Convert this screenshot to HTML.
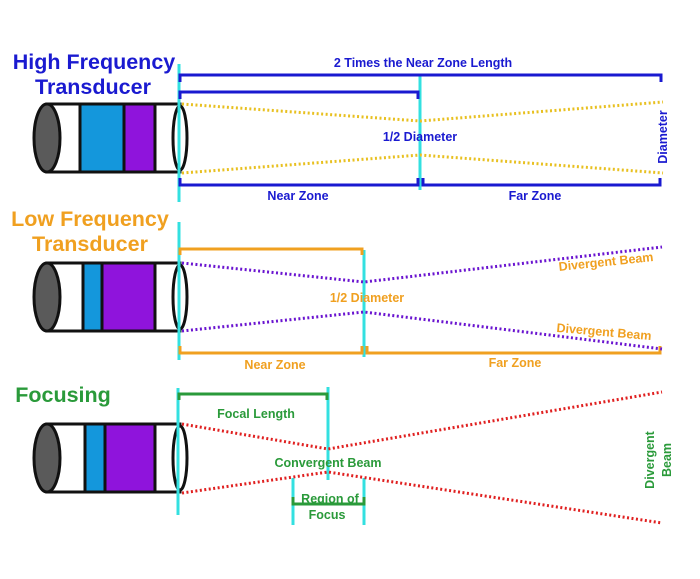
<!DOCTYPE html>
<html><head><style>body{margin:0;background:#fff}svg{display:block}text{font-family:"Liberation Sans",sans-serif;font-weight:bold}</style></head><body>
<svg width="700" height="579" viewBox="0 0 700 579" xmlns="http://www.w3.org/2000/svg">
<!-- HIGH FREQUENCY -->
<text x="94" y="69" font-size="21.5" fill="#1a1ad0" text-anchor="middle">High Frequency</text>
<text x="93" y="94" font-size="21.5" fill="#1a1ad0" text-anchor="middle">Transducer</text>
<g stroke="#111" stroke-width="3">
<rect x="47" y="104" width="133" height="68" fill="#fff"/>
<rect x="80" y="104" width="44" height="68" fill="#1497dc"/>
<rect x="124" y="104" width="31" height="68" fill="#8f14dc"/>
<ellipse cx="47" cy="138" rx="13" ry="34" fill="#5a5a5a"/>
<ellipse cx="180" cy="138" rx="7" ry="32" fill="#fff"/>
</g>
<line x1="179" y1="64" x2="179" y2="202" stroke="#33e0e0" stroke-width="3"/>
<line x1="420" y1="76" x2="420" y2="190" stroke="#33e0e0" stroke-width="3"/>
<g stroke="#1a1ad0" stroke-width="3" fill="none">
<path d="M180 82V75H661V82"/>
<path d="M180 99V92H418V99"/>
<path d="M180 178V185H418V178M423 178V185H660V178"/>
</g>
<g stroke="#e8c020" stroke-width="3" stroke-dasharray="2 2.5" fill="none">
<path d="M182 104L420 121L663 102"/>
<path d="M182 173L420 155L663 173"/>
</g>
<g fill="#1a1ad0" font-size="12.5">
<text x="423" y="67" text-anchor="middle">2 Times the Near Zone Length</text>
<text x="420" y="141" text-anchor="middle">1/2 Diameter</text>
<text x="298" y="200" text-anchor="middle">Near Zone</text>
<text x="535" y="200" text-anchor="middle">Far Zone</text>
<text transform="translate(667,137) rotate(-90)" text-anchor="middle">Diameter</text>
</g>
<!-- LOW FREQUENCY -->
<text x="90" y="226" font-size="21.5" fill="#f0a020" text-anchor="middle">Low Frequency</text>
<text x="90" y="251" font-size="21.5" fill="#f0a020" text-anchor="middle">Transducer</text>
<g stroke="#111" stroke-width="3">
<rect x="47" y="263" width="133" height="68" fill="#fff"/>
<rect x="83" y="263" width="19" height="68" fill="#1497dc"/>
<rect x="102" y="263" width="53" height="68" fill="#8f14dc"/>
<ellipse cx="47" cy="297" rx="13" ry="34" fill="#5a5a5a"/>
<ellipse cx="180" cy="297" rx="7" ry="32" fill="#fff"/>
</g>
<line x1="179" y1="222" x2="179" y2="360" stroke="#33e0e0" stroke-width="3"/>
<line x1="364" y1="250" x2="364" y2="357" stroke="#33e0e0" stroke-width="3"/>
<g stroke="#f0a020" stroke-width="3" fill="none">
<path d="M180 255V249H362V255"/>
<path d="M180 346V353H362V346M367 346V353H660V346"/>
</g>
<g stroke="#6a14d0" stroke-width="3" stroke-dasharray="2 2.5" fill="none">
<path d="M182 263L364 282L662 247"/>
<path d="M182 331L364 312L662 349"/>
</g>
<g fill="#f0a020" font-size="12.5">
<text x="367" y="302" text-anchor="middle">1/2 Diameter</text>
<text x="275" y="369" text-anchor="middle">Near Zone</text>
<text x="515" y="367" text-anchor="middle">Far Zone</text>
<text x="606" y="266" text-anchor="middle" transform="rotate(-6 606 262)">Divergent Beam</text>
<text x="604" y="336" text-anchor="middle" transform="rotate(5 604 332)">Divergent Beam</text>
</g>
<!-- FOCUSING -->
<text x="63" y="402" font-size="21.5" fill="#2a9a3a" text-anchor="middle">Focusing</text>
<g stroke="#111" stroke-width="3">
<rect x="47" y="424" width="133" height="68" fill="#fff"/>
<rect x="85" y="424" width="20" height="68" fill="#1497dc"/>
<rect x="105" y="424" width="50" height="68" fill="#8f14dc"/>
<ellipse cx="47" cy="458" rx="13" ry="34" fill="#5a5a5a"/>
<ellipse cx="180" cy="458" rx="7" ry="32" fill="#fff"/>
</g>
<line x1="178" y1="388" x2="178" y2="515" stroke="#33e0e0" stroke-width="3"/>
<line x1="328" y1="387" x2="328" y2="480" stroke="#33e0e0" stroke-width="3"/>
<line x1="293" y1="478" x2="293" y2="525" stroke="#33e0e0" stroke-width="3"/>
<line x1="364" y1="478" x2="364" y2="525" stroke="#33e0e0" stroke-width="3"/>
<g stroke="#2a9a3a" stroke-width="3" fill="none">
<path d="M179 400V394H327V400"/>
<path d="M293 497V504H364V497"/>
</g>
<g stroke="#e02020" stroke-width="3" stroke-dasharray="2 2.5" fill="none">
<path d="M182 424L328 449L662 392"/>
<path d="M182 493L328 472L662 523"/>
</g>
<g fill="#2a9a3a" font-size="12.5">
<text x="256" y="418" text-anchor="middle">Focal Length</text>
<text x="328" y="467" text-anchor="middle">Convergent Beam</text>
<text x="330" y="503" text-anchor="middle">Region of</text>
<text x="327" y="519" text-anchor="middle">Focus</text>
<text transform="translate(654,460) rotate(-90)" text-anchor="middle">Divergent</text>
<text transform="translate(671,460) rotate(-90)" text-anchor="middle">Beam</text>
</g>
</svg>
</body></html>
